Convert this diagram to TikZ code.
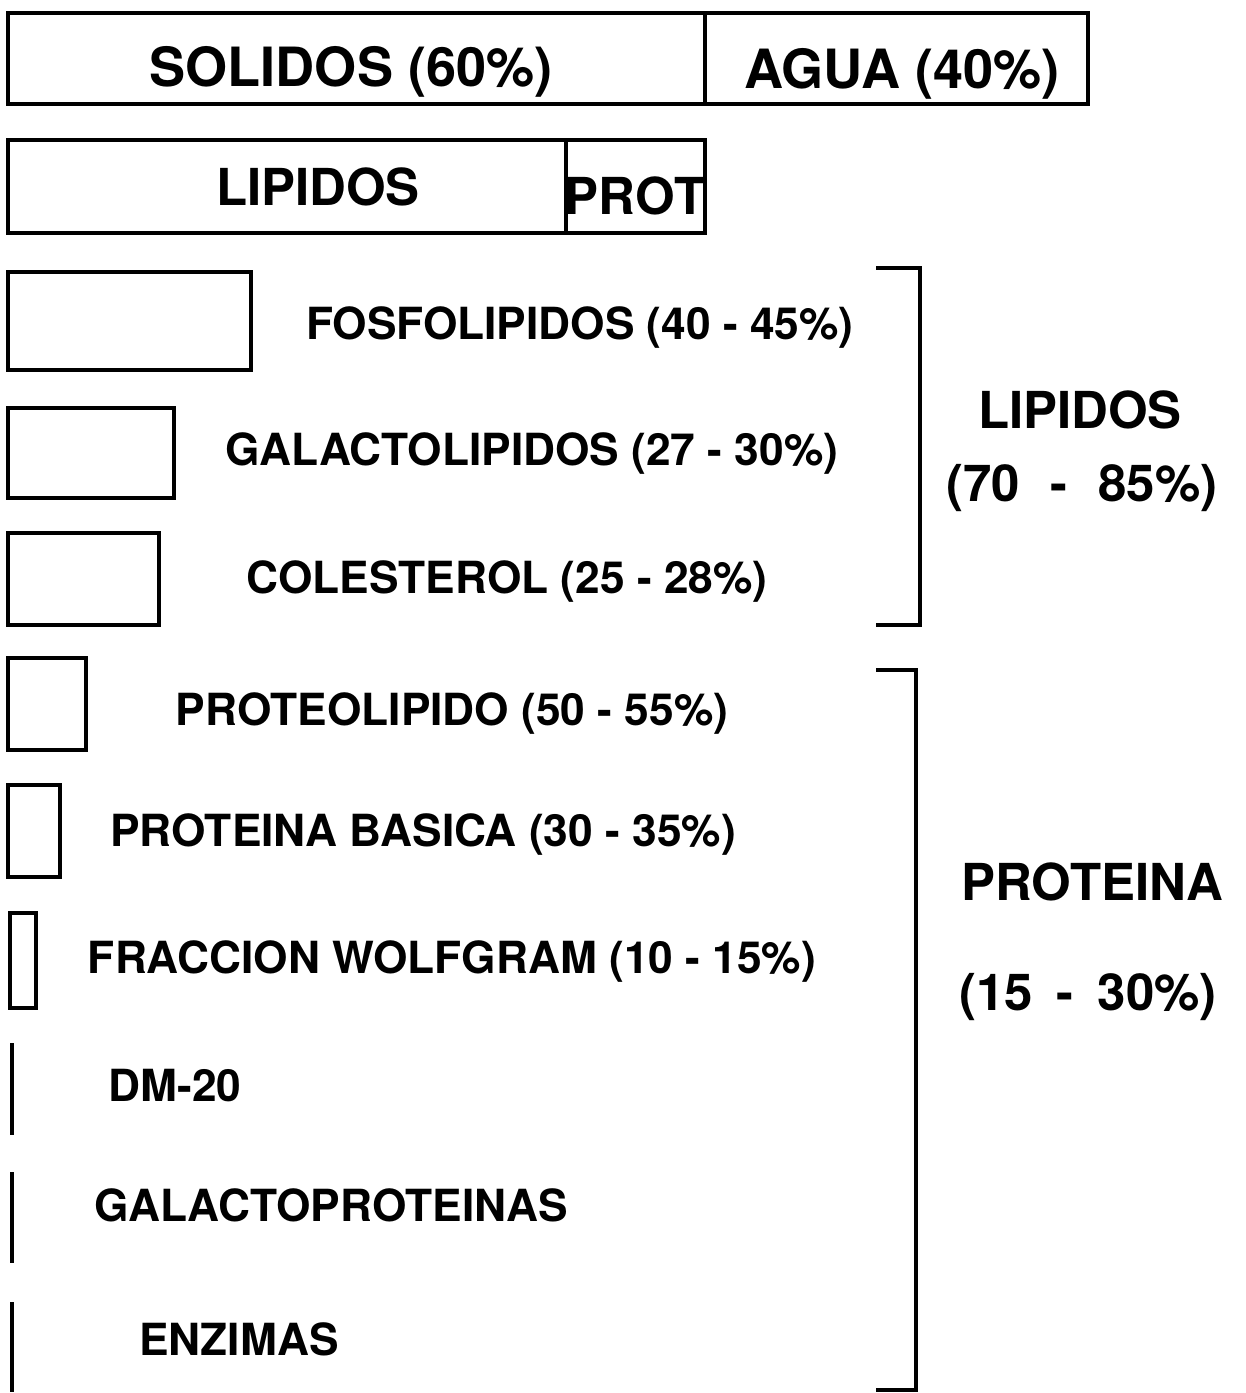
\documentclass[tikz,border=0pt]{standalone}
\usepackage{fontspec}
\setmainfont{TeX Gyre Heros}
\usetikzlibrary{positioning}

\begin{document}
\begin{tikzpicture}[
  x=0.02cm, y=-0.02cm,
  line width=2.2pt,
  bigtxt/.style={inner sep=0pt,anchor=base,font=\fontsize{30.8}{36}\selectfont\bfseries},
  midtxt/.style={inner sep=0pt,anchor=base,font=\fontsize{29}{34}\selectfont\bfseries},
  itemtxt/.style={inner sep=0pt,anchor=base,font=\fontsize{25.2}{30}\selectfont\bfseries}
]
  \useasboundingbox (0,0) rectangle (1246,1393);

  % Bars
  \draw (8,13) rectangle (1088,104);
  \draw (705,13) -- (705,104);
  \node[bigtxt] (solidos) at (351,86) {SOLIDOS (60\%)};
  \node[bigtxt] (agua) at (902,88) {AGUA (40\%)};

  \draw (8,140) rectangle (705,233);
  \draw (566,140) -- (566,233);
  \node[midtxt] (lipbar) at (318,205) {LIPIDOS};
  \node[midtxt] (protbar) at (635,214) {PROT};

  % Lipid boxes
  \draw (8,272) rectangle (251,370);
  \node[itemtxt] (fosfo) at (580,339) {FOSFOLIPIDOS (40 - 45\%)};
  \draw (8,408) rectangle (174,498);
  \node[itemtxt] (galacto) at (532,465) {GALACTOLIPIDOS (27 - 30\%)};
  \draw (8,533) rectangle (159,625);
  \node[itemtxt] (coles) at (507,593) {COLESTEROL (25 - 28\%)};

  % Protein boxes
  \draw (8,658) rectangle (86,750);
  \node[itemtxt] (proteo) at (452,725) {PROTEOLIPIDO (50 - 55\%)};
  \draw (8,785) rectangle (60,877);
  \node[itemtxt] (basica) at (423,846) {PROTEINA BASICA (30 - 35\%)};
  \draw (10,913) rectangle (36,1008);
  \node[itemtxt] (wolfgram) at (452,973) {FRACCION WOLFGRAM (10 - 15\%)};
  \draw (12,1043) -- (12,1135);
  \node[itemtxt] (dm) at (175,1101) {DM-20};
  \draw (12,1172) -- (12,1263);
  \node[itemtxt] (galprot) at (331,1221) {GALACTOPROTEINAS};
  \draw (12,1302) -- (12,1392);
  \node[itemtxt] (enzimas) at (239,1355) {ENZIMAS};

  % Brackets
  \draw (876,268) -- (920,268) -- (920,625) -- (876,625);
  \node[midtxt] (lipidos) at (1080,428) {LIPIDOS};
  \node[midtxt] (lippct) at (1082,501) {(70\hspace{0.6em}-\hspace{0.6em}85\%)};

  \draw (876,670) -- (916,670) -- (916,1390) -- (876,1390);
  \node[midtxt] (proteina) at (1092,900) {PROTEINA};
  \node[midtxt] (protpct) at (1088,1010) {(15\hspace{0.47em}-\hspace{0.47em}30\%)};
\end{tikzpicture}
\end{document}
